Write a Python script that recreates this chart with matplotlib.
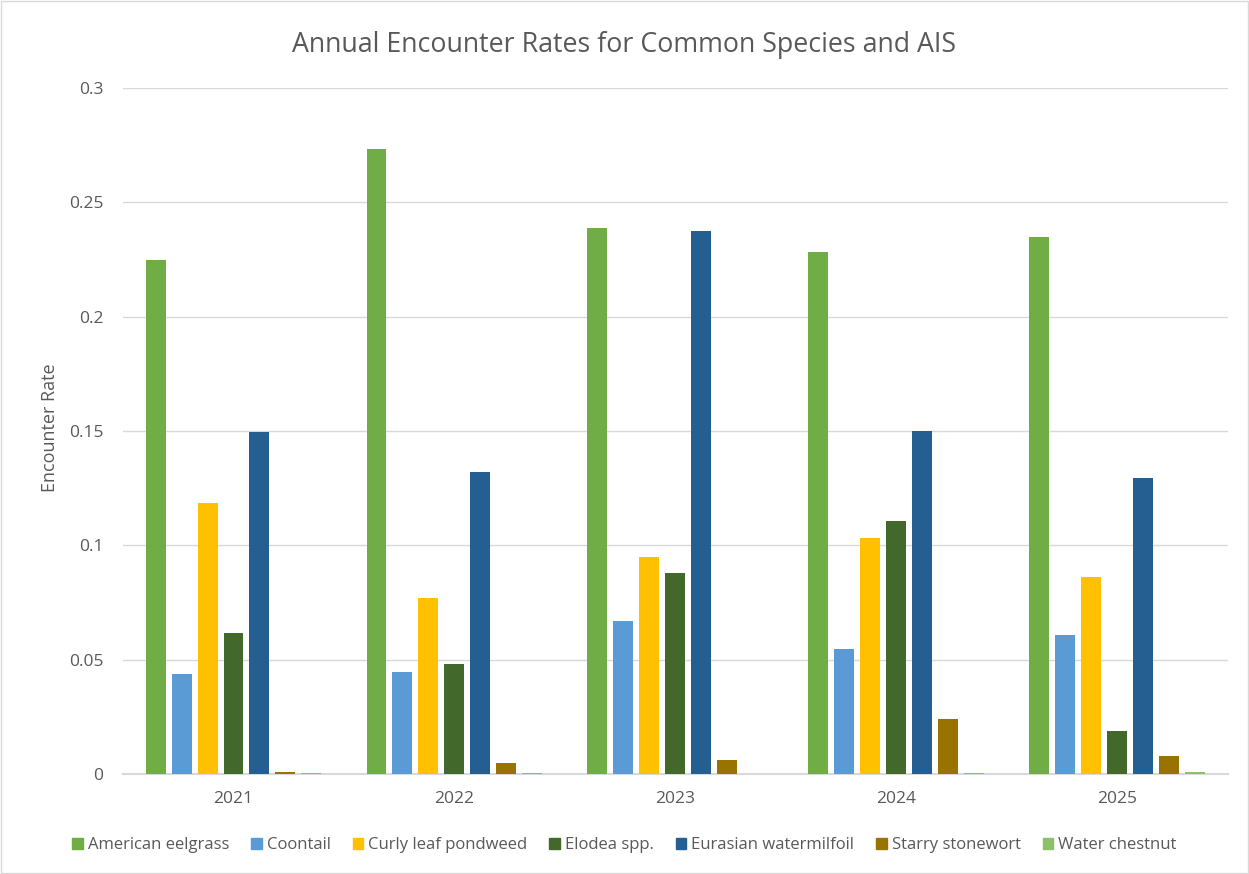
import numpy as np
import matplotlib.pyplot as plt
from matplotlib.patches import Patch, Rectangle

plt.rcParams['font.family'] = ['Open Sans', 'DejaVu Sans']

# Survey years and species
years = ['2021', '2022', '2023', '2024', '2025']
species = ['American eelgrass', 'Coontail', 'Curly leaf pondweed', 'Elodea spp.',
           'Eurasian watermilfoil', 'Starry stonewort', 'Water chestnut']

# Encounter rate per species, one value per year
american_eelgrass = [0.2248, 0.2733, 0.2388, 0.2283, 0.2348]
coontail = [0.0437, 0.0446, 0.0669, 0.0547, 0.0608]
curly_leaf_pondweed = [0.1185, 0.0770, 0.0949, 0.1032, 0.0861]
elodea = [0.0617, 0.0481, 0.0879, 0.1106, 0.0188]
eurasian_watermilfoil = [0.1496, 0.1321, 0.2375, 0.1500, 0.1294]
starry_stonewort = [0.0010, 0.0047, 0.0061, 0.0242, 0.0080]
water_chestnut = [0.0004, 0.0004, 0.0, 0.0004, 0.0009]

colors = ['#70AD47', '#5B9BD5', '#FFC000', '#43682B', '#255E91', '#997300', '#8CC168']

series = [american_eelgrass, coontail, curly_leaf_pondweed, elodea,
          eurasian_watermilfoil, starry_stonewort, water_chestnut]

TEXT = '#595959'

fig = plt.figure(figsize=(12.49, 8.74), dpi=100)
ax = fig.add_axes([0.0985, 0.1144, 0.8845, 0.7849])

x = np.arange(len(years))
pitch = 0.1176
width = 0.0905
for i, (vals, col) in enumerate(zip(series, colors)):
    offset = (i - 3) * pitch
    ax.bar(x + offset, vals, width=width, color=col, label=species[i], zorder=3)

ax.set_xlim(-0.5, len(years) - 0.5)
ax.set_ylim(0, 0.3)
ax.set_yticks([0, 0.05, 0.1, 0.15, 0.2, 0.25, 0.3])
ax.set_yticklabels(['0', '0.05', '0.1', '0.15', '0.2', '0.25', '0.3'])
ax.set_xticks(x)
ax.set_xticklabels(years)
ax.tick_params(axis='both', length=0, labelsize=12.5, colors=TEXT)
ax.tick_params(axis='x', pad=12)
ax.tick_params(axis='y', pad=14)
ax.grid(axis='y', color='#D9D9D9', linewidth=1, zorder=0)
for side in ['top', 'right', 'left']:
    ax.spines[side].set_visible(False)
ax.spines['bottom'].set_color('#D9D9D9')
ax.spines['bottom'].set_linewidth(1.5)

fig.text(50 / 1249, 0.5103, 'Encounter Rate', rotation=90, ha='center', va='center',
         fontsize=13, color=TEXT)

fig.text(0.5, 0.9485, 'Annual Encounter Rates for Common Species and AIS',
         ha='center', va='center', fontsize=19.3, color=TEXT)

handles = [Patch(color=c) for c in colors]
fig.legend(handles, species, loc='center', bbox_to_anchor=(0.5, 0.033), ncol=7,
           frameon=False, fontsize=12, labelcolor=TEXT,
           handlelength=0.65, handleheight=0.65, handletextpad=0.3, columnspacing=1.3)

# thin chart-area border
fig.patches.append(Rectangle((0.001, 0.001), 0.998, 0.998, transform=fig.transFigure,
                             fill=False, edgecolor='#D9D9D9', linewidth=1))

fig.savefig('out.png', dpi=100)
